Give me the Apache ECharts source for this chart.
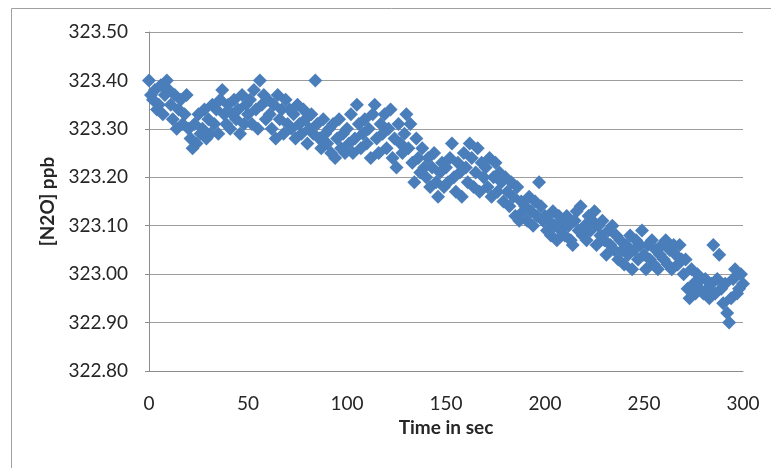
<!DOCTYPE html>
<html>
<head>
<meta charset="utf-8">
<script src="https://cdn.jsdelivr.net/npm/echarts@6/dist/echarts.min.js"></script>
<style>
  html, body { margin: 0; padding: 0; background: #fff; }
  #chart { width: 771px; height: 468px; }
</style>
</head>
<body>
<div id="chart"></div>
<script>
  // one reading per second, t = 0..300
  var timeSec = [];
  for (var i = 0; i <= 300; i++) timeSec.push(i);

  var n2oPpb = [
    323.40, 323.37, 323.36, 323.38, 323.34, 323.35, 323.39, 323.33, 323.37, 323.40,
    323.38, 323.35, 323.32, 323.37, 323.30, 323.34, 323.36, 323.31, 323.33, 323.37,
    323.30, 323.28, 323.26, 323.31, 323.27, 323.33, 323.29, 323.30, 323.34, 323.28,
    323.32, 323.29, 323.35, 323.31, 323.34, 323.29, 323.36, 323.38, 323.33, 323.31,
    323.35, 323.30, 323.33, 323.36, 323.32, 323.34, 323.29, 323.37, 323.31, 323.35,
    323.33, 323.36, 323.31, 323.38, 323.34, 323.30, 323.40, 323.35, 323.37, 323.32,
    323.36, 323.33, 323.30, 323.35, 323.28, 323.37, 323.32, 323.34, 323.29, 323.36,
    323.31, 323.34, 323.30, 323.33, 323.28, 323.35, 323.31, 323.29, 323.34, 323.32,
    323.27, 323.30, 323.33, 323.29, 323.40, 323.31, 323.28, 323.26, 323.32, 323.29,
    323.27, 323.30, 323.25, 323.31, 323.24, 323.28, 323.32, 323.26, 323.29, 323.25,
    323.30, 323.27, 323.33, 323.25, 323.28, 323.35, 323.31, 323.26, 323.29, 323.32,
    323.27, 323.30, 323.24, 323.33, 323.35, 323.28, 323.25, 323.31, 323.29, 323.33,
    323.26, 323.30, 323.34, 323.24, 323.28, 323.22, 323.31, 323.27, 323.25, 323.29,
    323.33, 323.26, 323.31, 323.23, 323.19, 323.28, 323.24, 323.21, 323.26, 323.22,
    323.20, 323.24, 323.18, 323.22, 323.25, 323.19, 323.16, 323.21, 323.23, 323.18,
    323.22, 323.19, 323.24, 323.27, 323.20, 323.17, 323.23, 323.21, 323.16, 323.25,
    323.22, 323.19, 323.27, 323.24, 323.18, 323.21, 323.26, 323.17, 323.23, 323.20,
    323.22, 323.18, 323.24, 323.16, 323.20, 323.23, 323.17, 323.21, 323.19, 323.15,
    323.20, 323.17, 323.14, 323.19, 323.16, 323.12, 323.18, 323.11, 323.15, 323.13,
    323.14, 323.11, 323.16, 323.13, 323.10, 323.15, 323.12, 323.19, 323.14, 323.11,
    323.12, 323.09, 323.11, 323.08, 323.13, 323.10, 323.07, 323.12, 323.09, 323.11,
    323.08, 323.12, 323.10, 323.07, 323.06, 323.11, 323.13, 323.09, 323.14, 323.08,
    323.10, 323.07, 323.12, 323.09, 323.11, 323.13, 323.06, 323.10, 323.08, 323.11,
    323.07, 323.04, 323.09, 323.06, 323.10, 323.05, 323.08, 323.03, 323.07, 323.05,
    323.02, 323.06, 323.04, 323.08, 323.01, 323.05, 323.07, 323.03, 323.06, 323.09,
    323.04, 323.01, 323.06, 323.03, 323.07, 323.02, 323.05, 323.01, 323.04, 323.06,
    323.03, 323.07, 323.02, 323.05, 323.01, 323.06, 323.04, 323.02, 323.06, 323.03,
    323.00, 323.03, 322.97, 322.95, 323.01, 322.98, 322.96, 323.00, 322.97, 322.99,
    322.96, 322.99, 322.97, 322.95, 322.98, 323.06, 322.96, 322.99, 323.04, 322.97,
    322.94, 322.98, 322.92, 322.90, 322.95, 322.99, 323.01, 322.96, 322.97, 323.00,
    322.98
  ];

  var points = timeSec.map(function (t, i) { return [t, n2oPpb[i]]; });

  var chart = echarts.init(document.getElementById('chart'));
  var txt = '#262626';

  var option = {
    animation: false,
    graphic: [{
      type: 'rect',
      shape: { x: 11.5, y: 8.5, width: 800, height: 500 },
      style: { fill: null, stroke: '#a0a0a0', lineWidth: 1 },
      silent: true
    }],
    grid: { left: 149, right: 28, top: 32, bottom: 97 },
    xAxis: {
      type: 'value',
      min: 0, max: 300, interval: 50,
      name: 'Time in sec',
      nameLocation: 'middle',
      nameGap: 45,
      nameTextStyle: { fontFamily: 'Lato', fontSize: 19, fontWeight: 'bold', color: txt },
      axisLine: { lineStyle: { color: '#8c8c8c' } },
      axisTick: { show: false },
      splitLine: { show: false },
      axisLabel: { margin: 23, fontFamily: 'Lato', fontSize: 19, color: txt }
    },
    yAxis: {
      type: 'value',
      min: 322.8, max: 323.5, interval: 0.1,
      name: '[N2O] ppb',
      nameLocation: 'middle',
      nameGap: 88,
      nameTextStyle: { fontFamily: 'Lato', fontSize: 19, fontWeight: 'bold', color: txt },
      axisLine: { show: true, lineStyle: { color: '#8c8c8c' } },
      axisTick: { show: true, length: 4, lineStyle: { color: '#8c8c8c' } },
      splitLine: { lineStyle: { color: '#9d9d9d' } },
      axisLabel: {
        margin: 21, fontFamily: 'Lato', fontSize: 19, color: txt,
        formatter: function (v) { return v.toFixed(2); }
      }
    },
    series: [{
      type: 'scatter',
      data: points,
      symbol: 'diamond',
      symbolSize: 14,
      itemStyle: { color: '#4a7ebb', opacity: 1 }
    }]
  };

  chart.setOption(option);
</script>
</body>
</html>
